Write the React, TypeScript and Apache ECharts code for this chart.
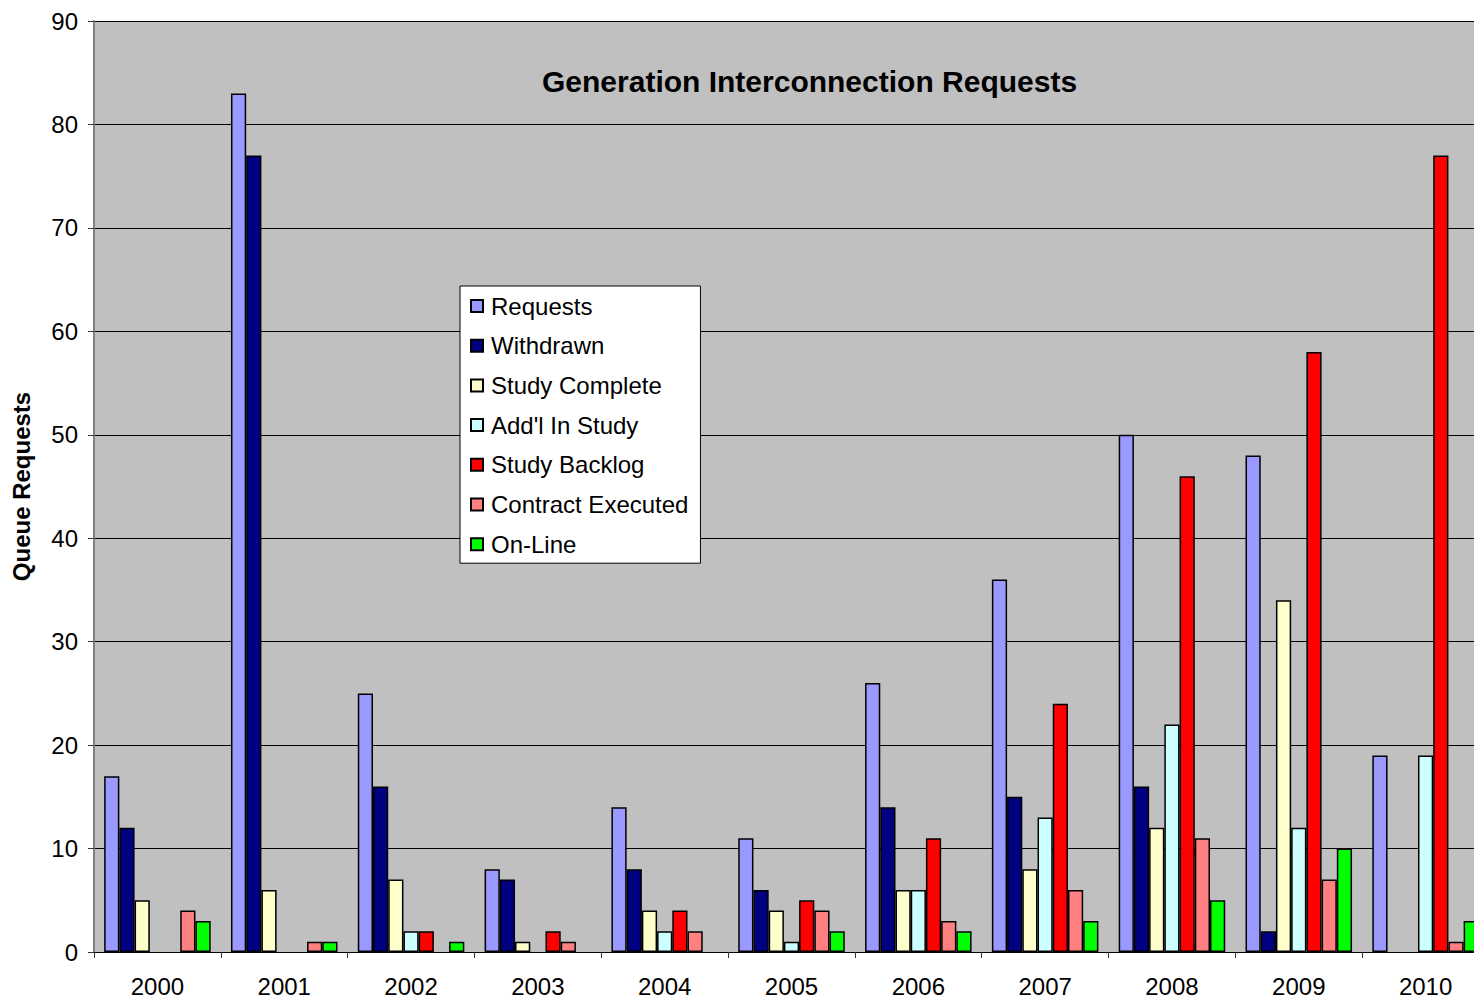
import React, { useEffect, useRef } from "react";
import * as echarts from "echarts";

const years = ["2000", "2001", "2002", "2003", "2004", "2005", "2006", "2007", "2008", "2009", "2010"];
const requests = [17, 83, 25, 8, 14, 11, 26, 36, 50, 48, 19];
const withdrawn = [12, 77, 16, 7, 8, 6, 14, 15, 16, 2, 0];
const studyComplete = [5, 6, 7, 1, 4, 4, 6, 8, 12, 34, 0];
const addlInStudy = [0, 0, 2, 0, 2, 1, 6, 13, 22, 12, 19];
const studyBacklog = [0, 0, 2, 2, 4, 5, 11, 24, 46, 58, 77];
const contractExecuted = [4, 1, 0, 1, 2, 4, 3, 6, 11, 7, 1];
const onLine = [3, 1, 1, 0, 0, 2, 2, 3, 5, 10, 3];

const seriesNames = ["Requests", "Withdrawn", "Study Complete", "Add'l In Study", "Study Backlog", "Contract Executed", "On-Line"];
const seriesValues = [requests, withdrawn, studyComplete, addlInStudy, studyBacklog, contractExecuted, onLine];
const seriesColors = ["#9999FF", "#000080", "#FFFFCC", "#CCFFFF", "#FF0000", "#FF8080", "#00FF00"];

const FONT = "'Liberation Sans', Arial, sans-serif";

export default function App() {
  const ref = useRef<HTMLDivElement>(null);
  useEffect(() => {
    if (!ref.current) return;
    const chart = echarts.init(ref.current, undefined, { renderer: "svg" });
    chart.setOption({
      animation: false,
      backgroundColor: "#FFFFFF",
      textStyle: { fontFamily: FONT },
      title: {
        text: "Generation Interconnection Requests",
        left: 537,
        top: 61,
        textStyle: { fontFamily: FONT, fontSize: 30, fontWeight: "bold", color: "#000" },
      },
      legend: {
        orient: "vertical",
        left: 460,
        top: 286,
        padding: [6, 12, 5, 10],
        itemWidth: 12,
        itemHeight: 12,
        itemGap: 11.7,
        icon: "rect",
        backgroundColor: "#FFFFFF",
        borderColor: "#000000",
        borderWidth: 1,
        data: seriesNames,
        textStyle: { fontFamily: FONT, fontSize: 24, color: "#000", lineHeight: 28, padding: [0, 0, 0, 3] },
      },
      grid: {
        left: 94,
        top: 21,
        bottom: 47,
        right: -15,
        outerBoundsMode: "none",
        containLabel: false,
        show: true,
        backgroundColor: "#C0C0C0",
        borderWidth: 0,
      },
      xAxis: {
        type: "category",
        data: years,
        axisLine: { show: true, lineStyle: { color: "#000", width: 1 } },
        axisTick: { show: true, length: 6, lineStyle: { color: "#333", width: 1 } },
        axisLabel: { fontFamily: FONT, fontSize: 24, color: "#000", margin: 22 },
      },
      yAxis: {
        type: "value",
        min: 0,
        max: 90,
        interval: 10,
        name: "Queue Requests",
        nameLocation: "middle",
        nameGap: 61,
        nameTextStyle: { fontFamily: FONT, fontSize: 24, fontWeight: "bold", color: "#000" },
        axisLine: { show: true, lineStyle: { color: "#808080", width: 2 } },
        axisTick: { show: true, length: 6, lineStyle: { color: "#333", width: 1 } },
        axisLabel: { fontFamily: FONT, fontSize: 24, color: "#000", margin: 16 },
        splitLine: { show: true, lineStyle: { color: "#000", width: 1 } },
      },
      series: seriesNames.map((name, i) => ({
        name,
        type: "bar",
        barGap: "0%",
        barCategoryGap: "16%",
        data: seriesValues[i].map((v) => (v === 0 ? "-" : v)),
        itemStyle: { color: seriesColors[i], borderColor: "#000", borderWidth: 1.5 },
      })),
    });
    return () => chart.dispose();
  }, []);
  return <div ref={ref} style={{ position: "fixed", left: 0, top: 0, width: 1474, height: 999 }} />;
}
